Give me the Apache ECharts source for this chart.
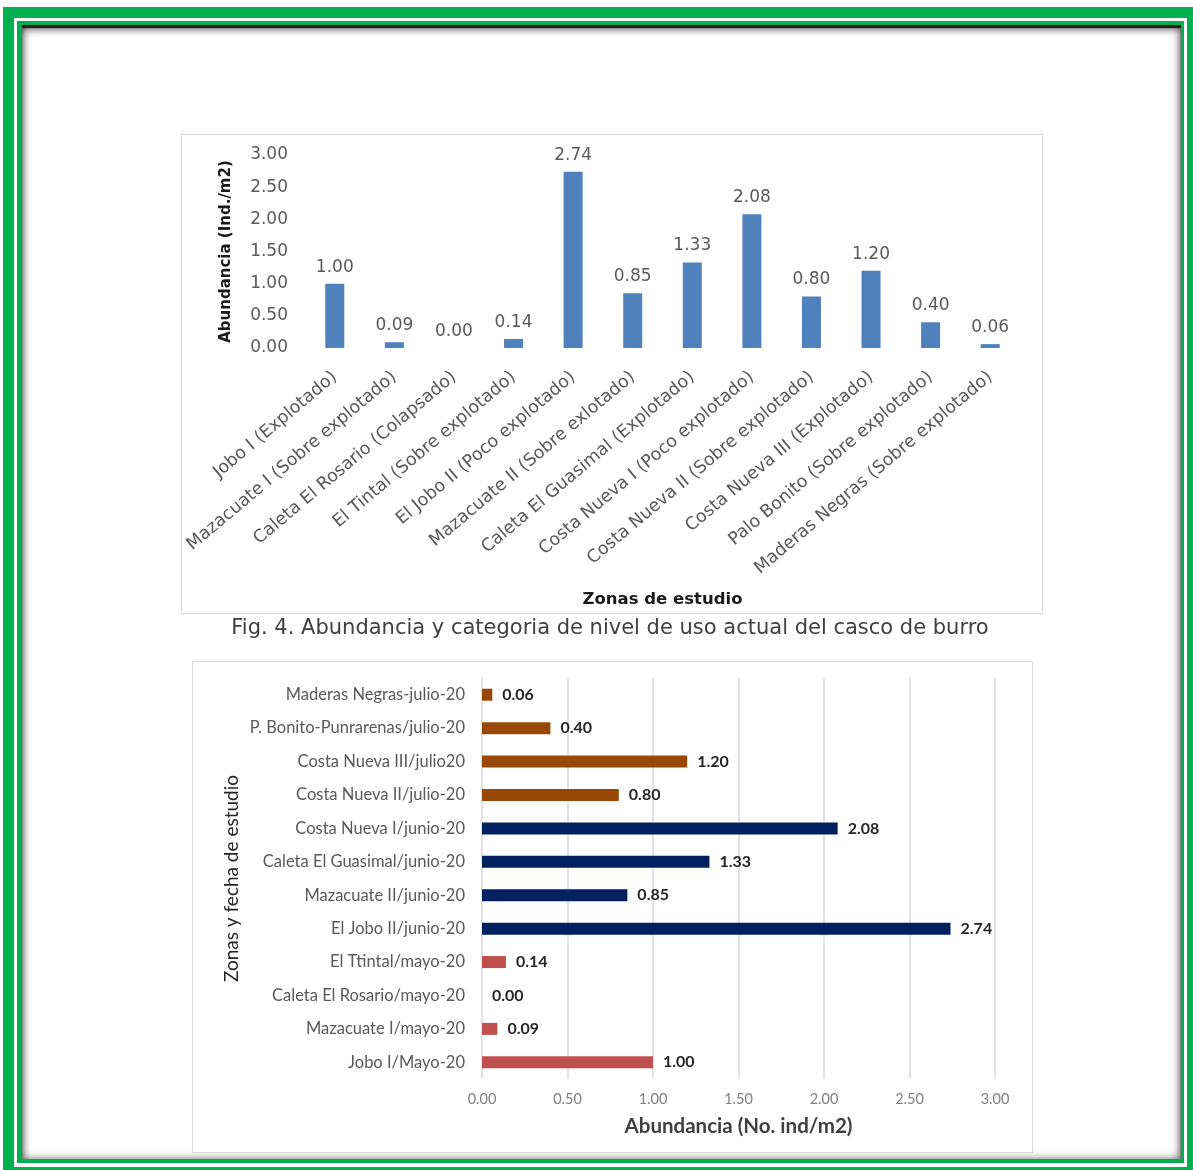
<!DOCTYPE html>
<html><head><meta charset="utf-8">
<script src="https://cdn.jsdelivr.net/npm/echarts@6.0.0/dist/echarts.min.js"></script>
<style>
html,body{margin:0;padding:0;background:#fff;width:1193px;height:1170px;overflow:hidden;position:relative;}
#outer{position:absolute;left:3px;top:7px;width:1195px;height:1171px;border:11px solid #00b050;box-sizing:border-box;}
#inner{position:absolute;left:17px;top:21px;width:1167px;height:1142px;box-sizing:border-box;
  border-left:5px solid #00b050;border-top:4px solid #00b050;border-right:3px solid #00b050;border-bottom:4px solid #00b050;
  box-shadow:inset 0 3px 1px #1a1a1a, inset 0 4px 8px rgba(0,0,0,0.55), inset 0 0 10px rgba(0,0,0,0.45);}
.box{position:absolute;border:1.5px solid #d9d9d9;box-sizing:border-box;background:#fff;}
#chart{position:absolute;left:0;top:0;width:1193px;height:1170px;}
</style></head>
<body>
<div id="outer"></div>
<div id="inner"></div>
<div class="box" style="left:181px;top:134px;width:862px;height:480px;"></div>
<div class="box" style="left:192px;top:661px;width:841px;height:492px;"></div>
<div id="chart"></div>
<script>
// ---- data ----
const zonasTop = ['Jobo I (Explotado)','Mazacuate I (Sobre explotado)','Caleta El Rosario (Colapsado)','El Tintal (Sobre explotado)','El Jobo II (Poco explotado)','Mazacuate II (Sobre exlotado)','Caleta El Guasimal (Explotado)','Costa Nueva I (Poco explotado)','Costa Nueva II (Sobre explotado)','Costa Nueva III (Explotado)','Palo Bonito (Sobre explotado)','Maderas Negras (Sobre explotado)'];
const abundanciaTop = [1.00,0.09,0.00,0.14,2.74,0.85,1.33,2.08,0.80,1.20,0.40,0.06];
const zonasBottom = ['Jobo I/Mayo-20','Mazacuate I/mayo-20','Caleta El Rosario/mayo-20','El Ttintal/mayo-20','El Jobo II/junio-20','Mazacuate II/junio-20','Caleta El Guasimal/junio-20','Costa Nueva I/junio-20','Costa Nueva II/julio-20','Costa Nueva III/julio20','P. Bonito-Punrarenas/julio-20','Maderas Negras-julio-20'];
const abundanciaBottom = [1.00,0.09,0.00,0.14,2.74,0.85,1.33,2.08,0.80,1.20,0.40,0.06];
const mesBottom = ['mayo','mayo','mayo','mayo','junio','junio','junio','junio','julio','julio','julio','julio'];
const colorMes = {mayo:'#c0504d', junio:'#002060', julio:'#974806'};
const caption = 'Fig. 4. Abundancia y categoria de nivel de uso actual del casco de burro';

const fTop = 'DejaVu Sans';
const fBot = 'Lato';
const chart = echarts.init(document.getElementById('chart'), null, {renderer:'canvas'});
chart.setOption({
  backgroundColor:'transparent',
  animation:false,
  grid:[
    {left:305, top:155, width:715, height:193},
    {left:482, top:678, width:513, height:401}
  ],
  xAxis:[
    {gridIndex:0, type:'category', data:zonasTop,
      axisLine:{show:false}, axisTick:{show:false},
      axisLabel:{rotate:40, interval:0, margin:27, color:'#595959', fontFamily:fTop, fontSize:17.5},
      name:'Zonas de estudio', nameLocation:'middle', nameGap:243,
      nameTextStyle:{fontFamily:fTop, fontWeight:'bold', fontSize:16.5, color:'#1a1a1a'}},
    {gridIndex:1, type:'value', min:0, max:3, interval:0.5,
      axisLine:{show:false}, axisTick:{show:false},
      splitLine:{show:true, lineStyle:{color:'#d9d9d9', width:1.5}},
      axisLabel:{margin:13, color:'#7f7f7f', fontFamily:fBot, fontSize:14.5, formatter:v=>v.toFixed(2)},
      name:'Abundancia (No. ind/m2)', nameLocation:'middle', nameGap:37,
      nameTextStyle:{fontFamily:fBot, fontWeight:'bold', fontSize:20.5, color:'#404040'}},
  ],
  yAxis:[
    {gridIndex:0, type:'value', min:0, max:3, interval:0.5,
      axisLine:{show:false}, axisTick:{show:false}, splitLine:{show:false},
      axisLabel:{margin:17, color:'#595959', fontFamily:fTop, fontSize:17, formatter:v=>v.toFixed(2)},
      name:'Abundancia (Ind./m2)', nameLocation:'middle', nameRotate:90, nameGap:71,
      nameTextStyle:{fontFamily:fTop, fontWeight:'bold', fontSize:15, color:'#1a1a1a'}},
    {gridIndex:1, type:'category', data:zonasBottom,
      axisLine:{show:false}, axisTick:{show:false},
      axisLabel:{margin:17, interval:0, color:'#595959', fontFamily:fBot, fontSize:16.5},
      name:'Zonas y fecha de estudio', nameLocation:'middle', nameRotate:90, nameGap:241,
      nameTextStyle:{fontFamily:fBot, fontSize:19, color:'#262626'}}
  ],
  series:[
    {type:'bar', xAxisIndex:0, yAxisIndex:0, data:abundanciaTop, barWidth:19,
      itemStyle:{color:'#4f81bd'},
      label:{show:true, position:'top', distance:8, color:'#595959', fontFamily:fTop, fontSize:17, formatter:p=>p.value.toFixed(2)}},
    {type:'bar', xAxisIndex:1, yAxisIndex:1, barWidth:12,
      data:abundanciaBottom.map((v,i)=>({value:v, itemStyle:{color:colorMes[mesBottom[i]]}})),
      label:{show:true, position:'right', distance:10, color:'#262626', fontFamily:fBot, fontSize:16, fontWeight:'bold', formatter:p=>p.value.toFixed(2)}}
  ],
  graphic:[
    {type:'text', x:610, y:618, style:{text:caption, textAlign:'center', fontFamily:fTop, fontSize:21, fill:'#404040'}}
  ]
});
</script>
</body></html>
